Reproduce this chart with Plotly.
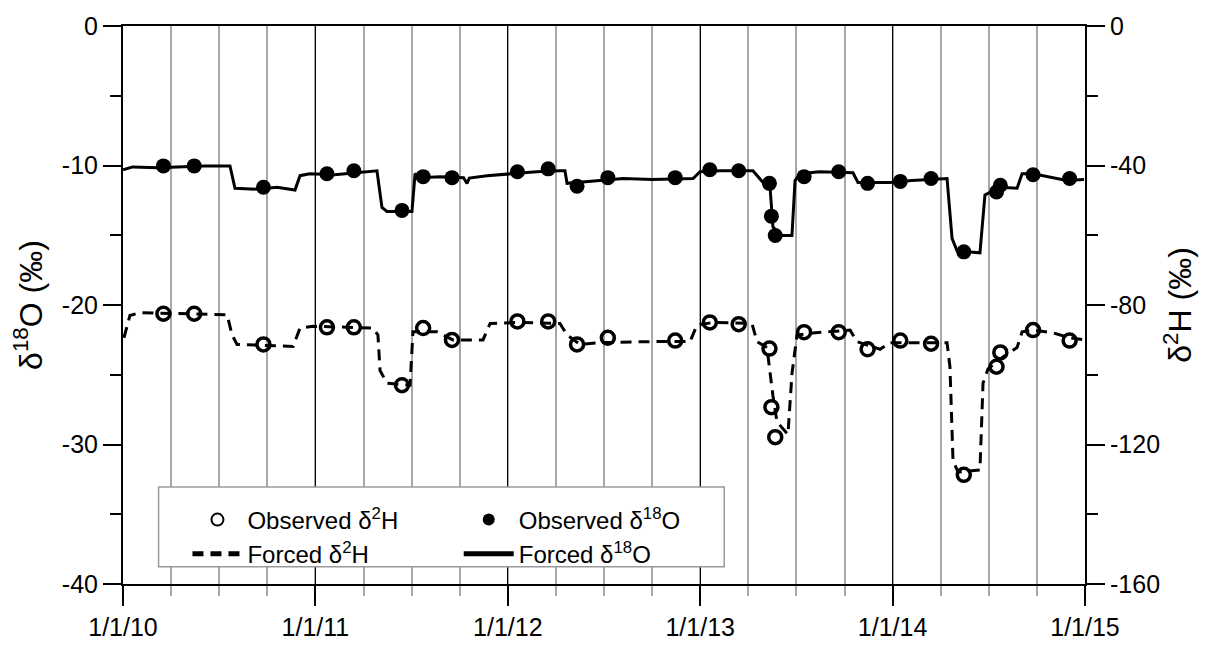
import plotly.graph_objects as go

# ---------------- data (decimal years) ----------------
obs_o18_x = [2010.21, 2010.37, 2010.73, 2011.06, 2011.20, 2011.45, 2011.56, 2011.71,
             2012.05, 2012.21, 2012.36, 2012.52, 2012.87, 2013.05, 2013.20, 2013.36,
             2013.37, 2013.39, 2013.54, 2013.72, 2013.87, 2014.04, 2014.20, 2014.37,
             2014.54, 2014.56, 2014.73, 2014.92]
obs_o18_y = [-10.03, -10.03, -11.56, -10.59, -10.38, -13.22, -10.80, -10.87,
             -10.45, -10.24, -11.49, -10.87, -10.87, -10.31, -10.38, -11.28,
             -13.63, -15.02, -10.80, -10.45, -11.28, -11.14, -10.93, -16.19,
             -11.90, -11.42, -10.66, -10.93]

obs_h2_x = obs_o18_x
obs_h2_y = [-82.5, -82.5, -91.3, -86.4, -86.4, -103.0, -86.6, -90.0,
            -84.7, -84.7, -91.3, -89.4, -90.2, -85.0, -85.5, -92.5,
            -109.3, -117.9, -87.8, -87.8, -92.7, -90.2, -91.1, -128.7,
            -97.7, -93.6, -87.2, -90.2]

forced_o18_x = [2010.00, 2010.05, 2010.18, 2010.30, 2010.42, 2010.556, 2010.582, 2010.70,
                2010.80, 2010.894, 2010.92, 2010.97, 2011.10, 2011.32, 2011.346, 2011.372,
                2011.502, 2011.518, 2011.544, 2011.65, 2011.77, 2011.788, 2011.80, 2011.892,
                2012.027, 2012.15, 2012.27, 2012.297, 2012.308, 2012.40, 2012.479, 2012.60,
                2012.75, 2012.963, 2012.999, 2013.10, 2013.274, 2013.326, 2013.363, 2013.378,
                2013.415, 2013.477, 2013.493, 2013.519, 2013.62, 2013.794, 2013.82, 2013.987,
                2014.10, 2014.283, 2014.309, 2014.335, 2014.454, 2014.48, 2014.558, 2014.647,
                2014.673, 2014.73, 2014.80, 2014.906, 2014.995]
forced_o18_y = [-10.31, -10.10, -10.17, -10.10, -10.03, -10.03, -11.63, -11.70,
                -11.56, -11.76, -10.73, -10.60, -10.66, -10.38, -13.01, -13.29,
                -13.29, -10.59, -10.87, -10.80, -10.87, -11.28, -10.90, -10.73,
                -10.59, -10.45, -10.38, -10.38, -11.28, -11.14, -11.07, -10.93,
                -11.00, -10.93, -10.45, -10.38, -10.38, -11.21, -11.56, -14.39,
                -15.02, -15.02, -11.07, -10.59, -10.45, -10.52, -11.21, -11.21,
                -11.07, -10.93, -15.22, -16.12, -16.26, -12.11, -11.56, -11.63,
                -10.59, -10.59, -10.80, -11.07, -11.00]

forced_h2_x = [2010.005, 2010.036, 2010.088, 2010.541, 2010.567, 2010.593, 2010.884, 2010.92,
               2010.988, 2011.299, 2011.325, 2011.336, 2011.372, 2011.492, 2011.507, 2011.632,
               2011.715, 2011.871, 2011.908, 2012.063, 2012.271, 2012.308, 2012.375, 2012.479,
               2012.739, 2012.947, 2012.983, 2013.067, 2013.269, 2013.295, 2013.347, 2013.378,
               2013.399, 2013.456, 2013.477, 2013.503, 2013.586, 2013.779, 2013.815, 2013.935,
               2013.987, 2014.283, 2014.298, 2014.314, 2014.34, 2014.454, 2014.47, 2014.496,
               2014.574, 2014.647, 2014.673, 2014.73, 2014.834, 2014.922, 2015.0]
forced_h2_y = [-89.4, -83.0, -82.2, -82.8, -88.6, -91.3, -91.9, -86.6,
               -86.1, -86.6, -88.6, -98.8, -102.4, -103.0, -87.7, -87.7,
               -90.0, -90.0, -85.3, -85.0, -85.3, -88.6, -91.3, -90.8,
               -90.5, -90.5, -85.8, -85.0, -85.3, -90.5, -92.2, -106.0,
               -113.5, -117.1, -99.7, -88.6, -88.0, -87.2, -90.5, -92.7,
               -90.8, -90.8, -97.7, -124.6, -127.9, -127.3, -102.4, -98.3,
               -94.9, -92.2, -87.7, -87.2, -88.0, -89.4, -90.0]

x_tickvals = [2010, 2011, 2012, 2013, 2014, 2015]
x_ticktext = ["1/1/10", "1/1/11", "1/1/12", "1/1/13", "1/1/14", "1/1/15"]
y1_tickvals = [0, -10, -20, -30, -40]
y1_ticktext = ["0", "-10", "-20", "-30", "-40"]
y2_tickvals = [0, -40, -80, -120, -160]
y2_ticktext = ["0", "-40", "-80", "-120", "-160"]

FONT = "Liberation Sans, Arial, sans-serif"

fig = go.Figure()

fig.add_trace(go.Scatter(x=forced_h2_x, y=forced_h2_y, yaxis="y2", mode="lines",
                         name="Forced δ<sup>2</sup>H", legend="legend", legendrank=2,
                         line=dict(color="black", width=3, dash="11px,7px")))
fig.add_trace(go.Scatter(x=forced_o18_x, y=forced_o18_y, mode="lines",
                         name="Forced δ<sup>18</sup>O", legend="legend2", legendrank=2,
                         line=dict(color="black", width=3)))
fig.add_trace(go.Scatter(x=obs_h2_x, y=obs_h2_y, yaxis="y2", mode="markers",
                         name="Observed δ<sup>2</sup>H", legend="legend", legendrank=1,
                         marker=dict(symbol="circle-open", size=13, color="black",
                                     line=dict(width=3.5, color="black"))))
fig.add_trace(go.Scatter(x=obs_o18_x, y=obs_o18_y, mode="markers",
                         name="Observed δ<sup>18</sup>O", legend="legend2", legendrank=1,
                         marker=dict(symbol="circle", size=15, color="black")))

legend_common = dict(font=dict(family=FONT, size=24, color="black"),
                     bgcolor="rgba(0,0,0,0)", borderwidth=0,
                     xanchor="left", yanchor="top", tracegroupgap=0,
                     itemsizing="constant", itemwidth=50)

fig.update_layout(
    width=1225, height=653,
    margin=dict(l=123, r=140, t=20, b=57),
    paper_bgcolor="white", plot_bgcolor="white",
    font=dict(family=FONT, size=25, color="black"),
    showlegend=True,
    legend=dict(x=0.067, y=0.155, **legend_common),
    legend2=dict(x=0.349, y=0.155, **legend_common),
    xaxis=dict(range=[2010, 2015], tickvals=x_tickvals, ticktext=x_ticktext,
               showgrid=True, gridcolor="black", gridwidth=1,
               ticks="outside", ticklen=20, tickwidth=1.5, tickcolor="black",
               showline=True, linecolor="black", linewidth=2, mirror=True, zeroline=False,
               tickfont=dict(size=25),
               minor=dict(dtick=0.25, tick0=2010, showgrid=True, gridcolor="#a8a8a8",
                          gridwidth=1.5, ticks="outside", ticklen=10,
                          tickcolor="#a8a8a8", tickwidth=1.5)),
    yaxis=dict(range=[-40, 0], tickvals=y1_tickvals, ticktext=y1_ticktext,
               showgrid=False, zeroline=False,
               ticks="outside", ticklen=18, tickwidth=1.5, tickcolor="black",
               showline=True, linecolor="black", linewidth=2,
               tickfont=dict(size=25),
               title=dict(text="δ<sup>18</sup>O (‰)", font=dict(size=32), standoff=10),
               minor=dict(tickvals=[-5, -15, -25, -35], ticks="outside", ticklen=11,
                          tickcolor="black", tickwidth=1.5)),
    yaxis2=dict(range=[-160, 0], tickvals=y2_tickvals, ticktext=y2_ticktext,
                overlaying="y", side="right",
                showgrid=False, zeroline=False,
                ticks="outside", ticklen=18, tickwidth=1.5, tickcolor="black",
                showline=True, linecolor="black", linewidth=2,
                tickfont=dict(size=25),
                title=dict(text="δ<sup>2</sup>H (‰)", font=dict(size=32), standoff=10),
                minor=dict(tickvals=[-20, -60, -100, -140], ticks="outside", ticklen=11,
                           tickcolor="black", tickwidth=1.5)),
    shapes=[dict(type="rect", xref="paper", yref="paper",
                 x0=0.037, x1=0.625, y0=0.031, y1=0.174,
                 line=dict(color="#9a9a9a", width=1.5), fillcolor="white", layer="above")],
)

fig.write_html("out.html")
